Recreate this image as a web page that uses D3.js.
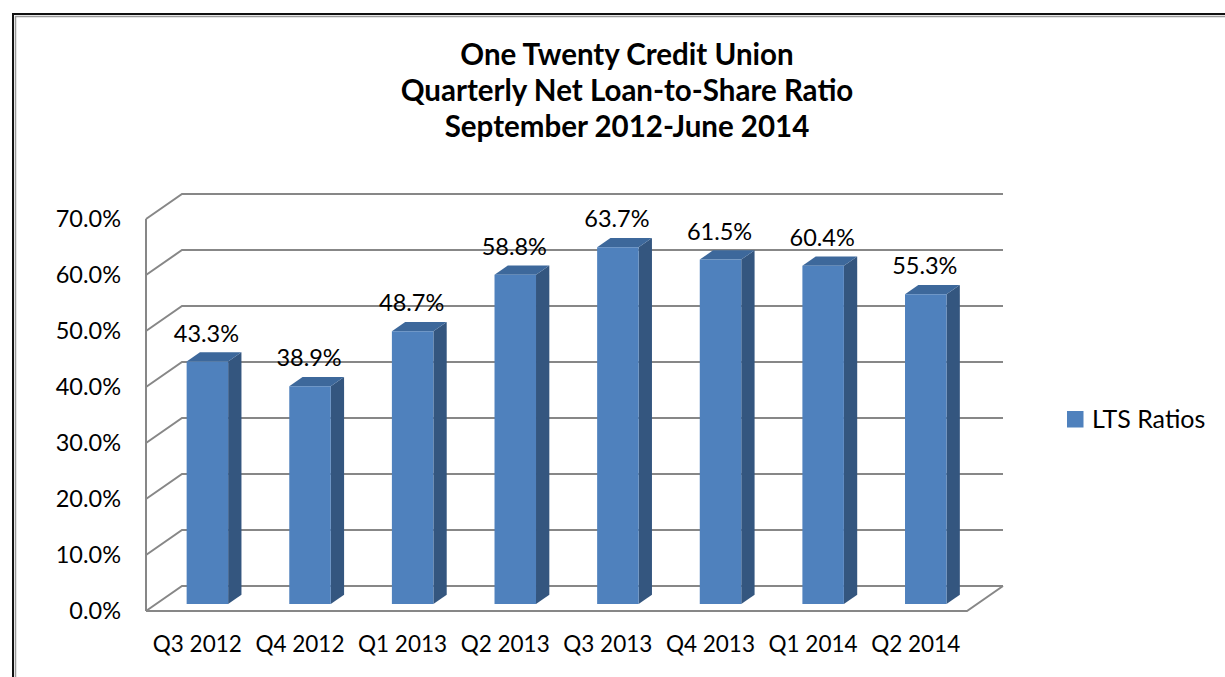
<!DOCTYPE html>
<html lang="en">
<head>
<meta charset="utf-8" />
<script src="https://cdnjs.cloudflare.com/ajax/libs/d3/7.8.5/d3.min.js"></script>
<style>
  body { margin: 0; background: #fff; }
  svg text { font-family: Lato, "Open Sans", sans-serif; fill: #000; }
</style>
<title>LTS Ratios</title>
</head>
<body>
<div id="chart"></div>
<script>
// data
const quarters = ['Q3 2012', 'Q4 2012', 'Q1 2013', 'Q2 2013', 'Q3 2013', 'Q4 2013', 'Q1 2014', 'Q2 2014'];
const ltsRatios = [43.3, 38.9, 48.7, 58.8, 63.7, 61.5, 60.4, 55.3];
const yTicks = [0, 10, 20, 30, 40, 50, 60, 70];
const titleLines = ['One Twenty Credit Union', 'Quarterly Net Loan-to-Share Ratio', 'September 2012-June 2014'];
const seriesName = 'LTS Ratios';

const width = 1225;
const height = 677;

// 3d box: front plane and depth offset
const depth = { dx: 36, dy: -25 };
const barDepth = [0.28, 0.65];

const svg = d3.select('#chart')
    .append('svg')
    .attr('width', width)
    .attr('height', height);

// outer frame
svg.append('rect')
    .attr('x', 13).attr('y', 14)
    .attr('width', width).attr('height', height)
    .attr('fill', 'none').attr('stroke', '#111').attr('stroke-width', 2);
svg.append('rect')
    .attr('x', 15.5).attr('y', 16.5)
    .attr('width', width).attr('height', height)
    .attr('fill', 'none').attr('stroke', '#9a9a9a').attr('stroke-width', 1.5);

const x = d3.scaleBand().domain(quarters).range([146, 967]);
const y = d3.scaleLinear().domain([0, 70]).range([611, 219]);

// point at value v, horizontal px, depth fraction f
const pt = (px, v, f) => [px + f * depth.dx, y(v) + f * depth.dy];
const line = d3.line();

const grid = svg.append('g')
    .attr('fill', 'none')
    .attr('stroke', '#878787')
    .attr('stroke-width', 2);

// side wall and back wall gridlines
yTicks.forEach((t) => {
    grid.append('path').attr('d', line([pt(146, t, 0), pt(146, t, 1), pt(967, t, 1)]));
});
grid.append('path').attr('d', line([pt(146, 0, 0), pt(146, 70, 0)]));
// floor
grid.append('path').attr('d', line([pt(146, 0, 0), pt(967, 0, 0), pt(967, 0, 1)]));

// y labels
svg.append('g')
    .selectAll('text')
    .data(yTicks)
    .join('text')
    .attr('x', 121)
    .attr('y', (d) => y(d))
    .attr('dy', '0.36em')
    .attr('text-anchor', 'end')
    .attr('font-size', 23.5)
    .text((d) => d.toFixed(1) + '%');

// category labels
svg.append('g')
    .selectAll('text')
    .data(quarters)
    .join('text')
    .attr('x', (d) => x(d) + x.bandwidth() / 2)
    .attr('y', 652)
    .attr('text-anchor', 'middle')
    .attr('font-size', 22.5)
    .text((d) => d);

// bars
const barW = 41.5;
const bars = svg.append('g')
    .selectAll('g')
    .data(quarters.map((q, i) => ({ q, v: ltsRatios[i] })))
    .join('g');

const left = (d) => x(d.q) + (x.bandwidth() - barW) / 2;
const f0 = barDepth[0];
const f1 = barDepth[1];

bars.append('path')
    .attr('fill', '#34567f')
    .attr('d', (d) => line([
        pt(left(d) + barW, 0, f0), pt(left(d) + barW, d.v, f0),
        pt(left(d) + barW, d.v, f1), pt(left(d) + barW, 0, f1)
    ]) + 'Z');

bars.append('path')
    .attr('fill', '#3d689b')
    .attr('d', (d) => line([
        pt(left(d), d.v, f0), pt(left(d) + barW, d.v, f0),
        pt(left(d) + barW, d.v, f1), pt(left(d), d.v, f1)
    ]) + 'Z');

bars.append('path')
    .attr('fill', '#4f81bd')
    .attr('d', (d) => line([
        pt(left(d), 0, f0), pt(left(d) + barW, 0, f0),
        pt(left(d) + barW, d.v, f0), pt(left(d), d.v, f0)
    ]) + 'Z');

bars.append('text')
    .attr('x', (d) => pt(left(d) + barW / 2, d.v, f0)[0] - 1)
    .attr('y', (d) => pt(left(d), d.v, f0)[1] - 20)
    .attr('text-anchor', 'middle')
    .attr('font-size', 23.5)
    .text((d) => d.v.toFixed(1) + '%');

// title
svg.append('g')
    .selectAll('text')
    .data(titleLines)
    .join('text')
    .attr('x', 627)
    .attr('y', (d, i) => 65 + i * 36)
    .attr('text-anchor', 'middle')
    .attr('font-size', 29.5)
    .attr('font-weight', 'bold')
    .text((d) => d);

// legend
const legend = svg.append('g').attr('transform', 'translate(1067, 411)');
legend.append('rect').attr('width', 16.5).attr('height', 16.5).attr('fill', '#4f81bd');
legend.append('text')
    .attr('x', 25)
    .attr('y', 17)
    .attr('font-size', 25)
    .text(seriesName);
</script>
</body>
</html>
